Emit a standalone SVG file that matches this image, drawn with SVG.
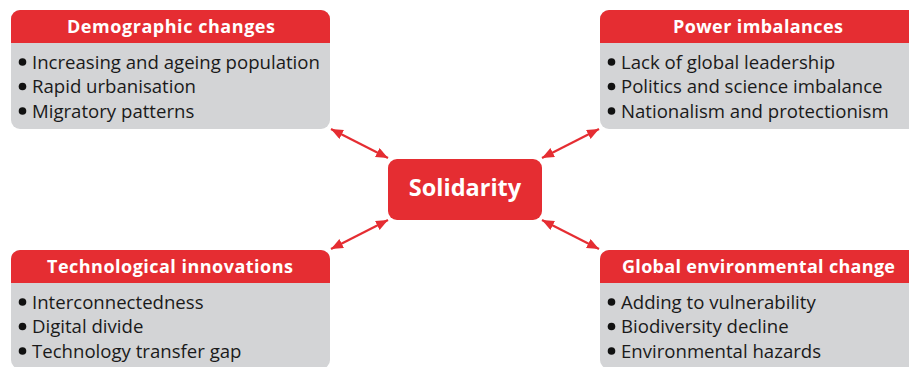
<svg xmlns="http://www.w3.org/2000/svg" width="909" height="367" viewBox="0 0 909 367">
<style>
.body{fill:#d3d4d6}
.head{fill:#e52d32}
.ht{font-family:"Open Sans","Liberation Sans",sans-serif;font-weight:bold;font-size:18px;fill:#fff;text-anchor:middle}
.bt{font-family:"Open Sans","Liberation Sans",sans-serif;font-size:18.6px;fill:#1a1a1a}
.dot{fill:#111}
.conn line{stroke:#e52d32;stroke-width:2.2;marker-start:url(#ah);marker-end:url(#ah)}
</style>
<defs>
<marker id="ah" markerUnits="userSpaceOnUse" markerWidth="13" markerHeight="11" refX="12" refY="5" orient="auto-start-reverse" viewBox="0 0 13 11">
<path d="M0,0 L12,5 L0,10 z" fill="#e52d32"/>
</marker>
</defs>
<rect width="909" height="367" fill="#fff"/>

<g id="demographic">
<rect class="body" x="11" y="10" width="319" height="119" rx="9"/>
<path class="head" d="M11,43 V19 A9,9 0 0 1 20,10 H321 A9,9 0 0 1 330,19 V43 Z"/>
<text class="ht" x="171" y="33" textLength="208" lengthAdjust="spacing">Demographic changes</text>
<circle class="dot" cx="22.5" cy="62" r="3.8"/>
<circle class="dot" cx="22.5" cy="86.5" r="3.8"/>
<circle class="dot" cx="22.5" cy="111" r="3.8"/>
<text class="bt" x="32" y="68.5">Increasing and ageing population</text>
<text class="bt" x="32" y="93">Rapid urbanisation</text>
<text class="bt" x="32" y="117.5">Migratory patterns</text>
</g>

<g id="power">
<rect class="body" x="600" y="10" width="319" height="119" rx="9"/>
<path class="head" d="M600,43 V19 A9,9 0 0 1 609,10 H910 A9,9 0 0 1 919,19 V43 Z"/>
<text class="ht" x="758" y="33" textLength="170" lengthAdjust="spacing">Power imbalances</text>
<circle class="dot" cx="611.5" cy="62" r="3.8"/>
<circle class="dot" cx="611.5" cy="86.5" r="3.8"/>
<circle class="dot" cx="611.5" cy="111" r="3.8"/>
<text class="bt" x="621" y="68.5">Lack of global leadership</text>
<text class="bt" x="621" y="93">Politics and science imbalance</text>
<text class="bt" x="621" y="117.5">Nationalism and protectionism</text>
</g>

<g id="technological">
<rect class="body" x="11" y="250" width="319" height="119" rx="9"/>
<path class="head" d="M11,283 V259 A9,9 0 0 1 20,250 H321 A9,9 0 0 1 330,259 V283 Z"/>
<text class="ht" x="170" y="273" textLength="246" lengthAdjust="spacing">Technological innovations</text>
<circle class="dot" cx="22.5" cy="302" r="3.8"/>
<circle class="dot" cx="22.5" cy="326.5" r="3.8"/>
<circle class="dot" cx="22.5" cy="351" r="3.8"/>
<text class="bt" x="32" y="308.5">Interconnectedness</text>
<text class="bt" x="32" y="333">Digital divide</text>
<text class="bt" x="32" y="357.5">Technology transfer gap</text>
</g>

<g id="environmental">
<rect class="body" x="600" y="250" width="319" height="119" rx="9"/>
<path class="head" d="M600,283 V259 A9,9 0 0 1 609,250 H910 A9,9 0 0 1 919,259 V283 Z"/>
<text class="ht" x="758.5" y="273" textLength="273" lengthAdjust="spacing">Global environmental change</text>
<circle class="dot" cx="611.5" cy="302" r="3.8"/>
<circle class="dot" cx="611.5" cy="326.5" r="3.8"/>
<circle class="dot" cx="611.5" cy="351" r="3.8"/>
<text class="bt" x="621" y="308.5">Adding to vulnerability</text>
<text class="bt" x="621" y="333">Biodiversity decline</text>
<text class="bt" x="621" y="357.5">Environmental hazards</text>
</g>

<g id="solidarity">
<rect class="head" x="388" y="159" width="154" height="61" rx="9"/>
<text x="465" y="196" style="font-family:'Open Sans','Liberation Sans',sans-serif;font-weight:bold;font-size:23.5px;fill:#fff;text-anchor:middle">Solidarity</text>
</g>

<g id="connectors" class="conn">
<line x1="331" y1="129" x2="388" y2="158"/>
<line x1="542" y1="158" x2="599" y2="129"/>
<line x1="388" y1="220" x2="331" y2="249"/>
<line x1="542" y1="220" x2="599" y2="249"/>
</g>
</svg>
